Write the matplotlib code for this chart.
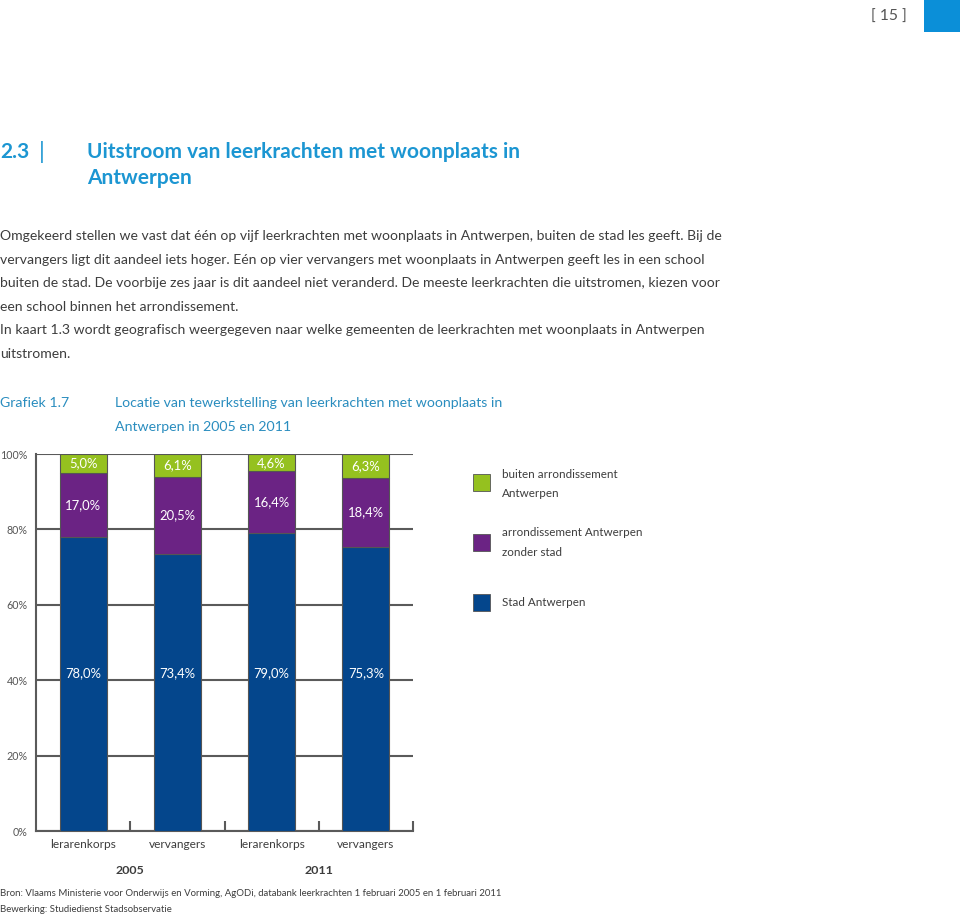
import matplotlib
matplotlib.use("Agg")
import matplotlib.pyplot as plt
from matplotlib import font_manager
from matplotlib.patches import Rectangle
import numpy as np

# ---------------- data ----------------
categories = ["lerarenkorps", "vervangers", "lerarenkorps", "vervangers"]
years = ["2005", "2011"]
stad = [78.0, 73.4, 79.0, 75.3]
arrond = [17.0, 20.5, 16.4, 18.4]
buiten = [5.0, 6.1, 4.6, 6.3]
series_names = ["buiten arrondissement\nAntwerpen", "arrondissement Antwerpen\nzonder stad", "Stad Antwerpen"]
yticks = [0, 20, 40, 60, 80, 100]

# ---------------- style ----------------
names = {f.name for f in font_manager.fontManager.ttflist}
FONT = "DejaVu Sans"
for cand in ["Liberation Sans Narrow", "Lato", "Liberation Sans"]:
    if cand in names:
        FONT = cand
        break
plt.rcParams["font.family"] = [FONT, "DejaVu Sans"]

GREEN = "#95c11f"
PURPLE = "#6b2384"
BLUE = "#04468c"
GRID = "#5a5a5a"
TXT = "#3d3d3d"
HEAD = "#1c96d2"
CAP = "#2a8dbf"

W, H = 960, 917
fig = plt.figure(figsize=(W / 100, H / 100), dpi=100)
renderer = fig.canvas.get_renderer()

def size_for(s, width_px, weight="normal"):
    t = fig.text(0, 0, s, fontsize=10, fontweight=weight)
    w = t.get_window_extent(renderer).width
    t.remove()
    return 10 * width_px / w

def ft(x, y, s, **kw):
    return fig.text(x / W, 1 - y / H, s, **kw)

BODY = size_for("Omgekeerd stellen we vast dat één op vijf leerkrachten met woonplaats in Antwerpen, buiten de stad les geeft. Bij de", 720)
HEADS = size_for("Uitstroom van leerkrachten met woonplaats in", 432, "bold")
CAPS = size_for("Locatie van tewerkstelling van leerkrachten met woonplaats in", 386)
TICK = size_for("100%", 27)
VAL = size_for("17,0%", 36)
XLAB = size_for("lerarenkorps", 66)
YEAR = size_for("2005", 29, "bold")
SRC = size_for("Bron: Vlaams Ministerie voor Onderwijs en Vorming, AgODi, databank leerkrachten 1 februari 2005 en 1 februari 2011", 503)
LEG = size_for("arrondissement Antwerpen", 140)
PAGE = size_for("[ 15 ]", 36)

# page header
fig.add_artist(Rectangle((924 / W, 1 - 32 / H), 36 / W, 32 / H, transform=fig.transFigure,
                         color="#0b8fd8", lw=0))
ft(889, 17, "[ 15 ]", fontsize=PAGE, color="#555555", ha="center", va="center")

# heading
ft(0, 152, "2.3", fontsize=HEADS, fontweight="bold", color=HEAD, va="center")
ft(42, 152, "|", fontsize=HEADS * 1.1, color=HEAD, va="center", ha="center")
ft(87, 152, "Uitstroom van leerkrachten met woonplaats in", fontsize=HEADS, fontweight="bold", color=HEAD, va="center")
ft(87, 178, "Antwerpen", fontsize=HEADS, fontweight="bold", color=HEAD, va="center")

body = [
    "Omgekeerd stellen we vast dat één op vijf leerkrachten met woonplaats in Antwerpen, buiten de stad les geeft. Bij de",
    "vervangers ligt dit aandeel iets hoger. Eén op vier vervangers met woonplaats in Antwerpen geeft les in een school",
    "buiten de stad. De voorbije zes jaar is dit aandeel niet veranderd. De meeste leerkrachten die uitstromen, kiezen voor",
    "een school binnen het arrondissement.",
    "In kaart 1.3 wordt geografisch weergegeven naar welke gemeenten de leerkrachten met woonplaats in Antwerpen",
    "uitstromen.",
]
for i, line in enumerate(body):
    ft(0, 236 + i * 23.6, line, fontsize=BODY, color=TXT, va="center")

ft(0, 403, "Grafiek 1.7", fontsize=CAPS, color=CAP, va="center")
ft(115, 403, "Locatie van tewerkstelling van leerkrachten met woonplaats in", fontsize=CAPS, color=CAP, va="center")
ft(115, 427, "Antwerpen in 2005 en 2011", fontsize=CAPS, color=CAP, va="center")

# ---------------- chart ----------------
x0, x1, yb, yt = 36, 413, 831, 454
ax = fig.add_axes([x0 / W, 1 - yb / H, (x1 - x0) / W, (yb - yt) / H])
x = np.arange(len(categories))
bw = 0.5
ax.bar(x, stad, bw, color=BLUE, edgecolor="#555555", lw=0.8, zorder=3)
ax.bar(x, arrond, bw, bottom=stad, color=PURPLE, edgecolor="#555555", lw=0.8, zorder=3)
bot2 = [a + b for a, b in zip(stad, arrond)]
ax.bar(x, buiten, bw, bottom=bot2, color=GREEN, edgecolor="#555555", lw=0.8, zorder=3)

def fmt(v):
    return f"{v:.1f}%".replace(".", ",")

for i in range(len(x)):
    ax.text(x[i], 42, fmt(stad[i]), color="white", ha="center", va="center", fontsize=VAL, zorder=4)
    ax.text(x[i], stad[i] + arrond[i] / 2, fmt(arrond[i]), color="white", ha="center", va="center", fontsize=VAL, zorder=4)
    ax.text(x[i], bot2[i] + buiten[i] / 2, fmt(buiten[i]), color="white", ha="center", va="center", fontsize=VAL, zorder=4)

ax.set_xlim(-0.5, len(x) - 0.5)
ax.set_ylim(0, 100)
ax.set_yticks(yticks)
ax.set_yticklabels([f"{t}%" for t in yticks], color="#555555", fontsize=TICK)
ax.yaxis.grid(True, color=GRID, lw=1.5, zorder=1)
ax.tick_params(axis="y", length=0, pad=6)
ax.set_xticks(x)
ax.set_xticklabels(categories, color=TXT, fontsize=XLAB)
ax.tick_params(axis="x", which="major", length=0, pad=6)
ax.set_xticks(list(x + 0.5), minor=True)
ax.tick_params(axis="x", which="minor", direction="in", length=7, width=1.5, color=GRID)
for s in ["top", "right"]:
    ax.spines[s].set_visible(False)
for s in ["left", "bottom"]:
    ax.spines[s].set_color(GRID)
    ax.spines[s].set_linewidth(1.5)
ax.set_axisbelow(True)

# year labels
for j, yr in enumerate(years):
    ax.text(2 * j + 0.5, -10.6, yr, ha="center", va="center", fontsize=YEAR, fontweight="bold",
            color=TXT, clip_on=False)

# legend
leg_colors = [GREEN, PURPLE, BLUE]
leg_y = [482, 542, 602]
text_y = [[474, 494], [533, 553], [602]]
for c, yy, nm, ty in zip(leg_colors, leg_y, series_names, text_y):
    fig.add_artist(Rectangle((473 / W, 1 - (yy + 8.5) / H), 17 / W, 17 / H, transform=fig.transFigure,
                             facecolor=c, edgecolor="#555555", lw=0.6))
    for k, ln in enumerate(nm.split("\n")):
        ft(502, ty[k], ln, fontsize=LEG, color=TXT, va="center")

ft(0, 894, "Bron: Vlaams Ministerie voor Onderwijs en Vorming, AgODi, databank leerkrachten 1 februari 2005 en 1 februari 2011",
   fontsize=SRC, color=TXT, va="center")
ft(0, 910, "Bewerking: Studiedienst Stadsobservatie", fontsize=SRC, color=TXT, va="center")

fig.savefig("out.png", dpi=100, facecolor="white")
